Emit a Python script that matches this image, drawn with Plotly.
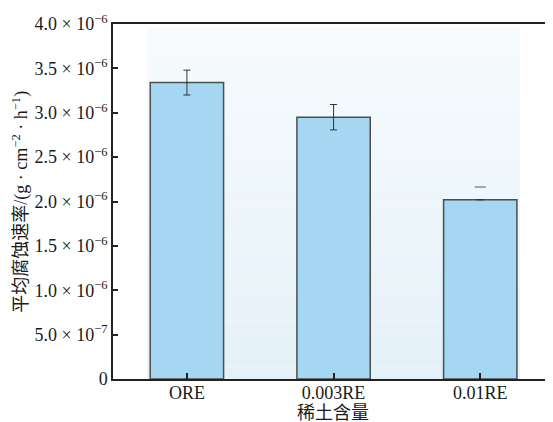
import plotly.graph_objects as go

categories = ["ORE", "0.003RE", "0.01RE"]
rates = [3.34e-6, 2.95e-6, 2.02e-6]
errors = [0.14e-6, 0.143e-6, None]
cap_only = [None, None, 2.163e-6]   # lone upper cap shown for 0.01RE
y_ticks = [0, 0.5e-6, 1.0e-6, 1.5e-6, 2.0e-6, 2.5e-6, 3.0e-6, 3.5e-6, 4.0e-6]
y_tick_text = ["0", "5.0 × 10<sup>−7</sup>", "1.0 × 10<sup>−6</sup>", "1.5 × 10<sup>−6</sup>",
               "2.0 × 10<sup>−6</sup>", "2.5 × 10<sup>−6</sup>", "3.0 × 10<sup>−6</sup>",
               "3.5 × 10<sup>−6</sup>", "4.0 × 10<sup>−6</sup>"]
x_title = "稀土含量"
y_title = "平均腐蚀速率/(g · cm<sup>−2</sup> · h<sup>−1</sup>)"

FONT = "Liberation Serif, Noto Sans CJK SC, serif"

fig = go.Figure()

# soft gradient panel behind bars
n = 30
top_c = (247, 251, 253)
bot_c = (228, 241, 248)
y0, y1 = 0.0, 3.955e-6
for i in range(n):
    t = i / (n - 1)
    c = tuple(int(round(bot_c[k] + (top_c[k] - bot_c[k]) * t)) for k in range(3))
    fig.add_shape(type="rect", xref="x", yref="y",
                  x0=-0.27, x1=2.27,
                  y0=y0 + (y1 - y0) * i / n, y1=y0 + (y1 - y0) * (i + 1) / n,
                  fillcolor="rgb(%d,%d,%d)" % c, line=dict(width=0), layer="below")

fig.add_trace(go.Bar(
    x=categories, y=rates, width=0.5,
    marker=dict(color="#a5d7f2", line=dict(color="#4d4d4d", width=1.5)),
    error_y=dict(type="data", array=errors, visible=True, color="#333333",
                 thickness=1, width=3.5),
    showlegend=False,
))
fig.add_trace(go.Scatter(
    x=categories, y=cap_only, mode="markers",
    marker=dict(symbol="line-ew-open", size=8, color="#555555",
                line=dict(color="#555555", width=1)),
    showlegend=False, cliponaxis=False,
))

fig.add_annotation(text=x_title, xref="paper", yref="paper", x=0.5, y=-0.097,
                   xanchor="center", yanchor="middle", showarrow=False,
                   font=dict(size=18, family=FONT, color="#1a1a1a"))
fig.add_annotation(text=y_title, xref="paper", yref="paper", x=-0.211, y=0.5,
                   xanchor="center", yanchor="middle", showarrow=False, textangle=-90,
                   font=dict(size=18, family=FONT, color="#1a1a1a"))

# page body has an 8px margin, so the figure is sized to fill the rest of the window
fig.update_layout(
    width=545, height=414,
    margin=dict(l=105, r=0, t=16, b=43, autoexpand=False),
    paper_bgcolor="white", plot_bgcolor="white",
    font=dict(family=FONT, color="#1a1a1a"),
    bargap=0.5,
)
fig.update_xaxes(
    range=[-0.504, 2.496], automargin=False,
    showline=True, linecolor="#222222", linewidth=1.5, mirror=True,
    ticks="inside", ticklen=6, tickcolor="#222222", tickwidth=1.5,
    tickfont=dict(size=18, family=FONT), ticklabelstandoff=-3,
    showgrid=False,
)
fig.update_yaxes(
    range=[0, 4.0e-6], automargin=False,
    tickvals=y_ticks, ticktext=y_tick_text,
    showline=True, linecolor="#222222", linewidth=1.5, mirror=False,
    ticks="inside", ticklen=5, tickcolor="#222222", tickwidth=1.5,
    tickfont=dict(size=18, family=FONT),
    showgrid=False, zeroline=False,
)

fig.write_html("out.html")
